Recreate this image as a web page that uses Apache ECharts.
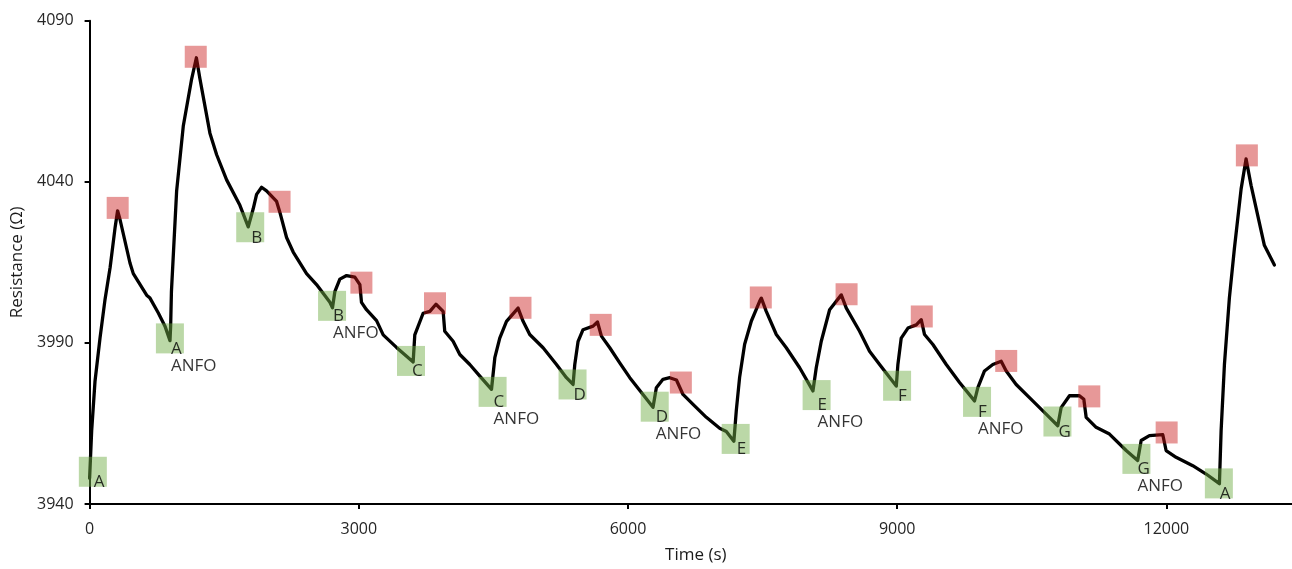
<!DOCTYPE html>
<html>
<head>
<meta charset="utf-8">
<script src="https://cdn.jsdelivr.net/npm/echarts@6/dist/echarts.min.js"></script>
<style>
html,body{margin:0;padding:0;background:#fff;}
#chart{width:1292px;height:569px;}
</style>
</head>
<body>
<div id="chart"></div>
<script>
// Resistance trace (time in s, resistance in Ω)
const traceTime = [
  0, 23, 60, 116, 172, 229, 285, 312,
  339, 450, 487, 636, 673, 766, 840, 896,
  903, 912, 970, 1044, 1137, 1190,
  1230, 1341, 1416, 1527, 1675, 1768, 1787,
  1824, 1861, 1917, 1972, 2084, 2121,
  2195, 2269, 2418, 2529, 2678, 2707,
  2733, 2789, 2864, 2956, 3012,
  3030, 3086, 3198, 3272, 3420, 3606,
  3624, 3717, 3792, 3860,
  3940, 3958, 4051, 4126, 4237, 4349, 4479,
  4516, 4571, 4646, 4775,
  4831, 4905, 5054, 5203, 5314, 5388,
  5407, 5444, 5499, 5611, 5660,
  5704, 5797, 5908, 6020, 6167, 6279,
  6316, 6390, 6465, 6540,
  6613, 6725, 6873, 7022, 7096, 7180,
  7207, 7244, 7300, 7375, 7467, 7486,
  7541, 7653, 7764, 7913, 8061,
  8098, 8154, 8247, 8377,
  8433, 8581, 8692, 8804, 8860, 8990,
  9008, 9045, 9120, 9213, 9268,
  9305, 9398, 9547, 9695, 9862,
  9899, 9973, 10066, 10159,
  10215, 10326, 10511, 10660, 10790,
  10827, 10920, 11031, 11080,
  11106, 11217, 11366, 11552, 11680,
  11719, 11811, 11960,
  11997, 12108, 12294, 12443, 12591,
  12610, 12647, 12702, 12758, 12833, 12888,
  12944, 13018, 13092, 13204
];
const traceResistance = [
  3948, 3962.7, 3978, 3991.5, 4003.5, 4013.5, 4026, 4031,
  4028.3, 4014.8, 4011.5, 4004.8, 4003.9, 3999.3, 3995.2, 3990.7,
  3995, 4006, 4037.2, 4057.3, 4071.9, 4078.5,
  4071.9, 4055.1, 4048.4, 4040.6, 4032.7, 4026, 4025.5,
  4031.7, 4036.1, 4038.3, 4037.2, 4033.9, 4030.5,
  4022.7, 4018.2, 4011.5, 4008.1, 4002.6, 4000.9,
  4005.9, 4009.8, 4010.9, 4010.4, 4008.1,
  4002.6, 4000.3, 3996.9, 3992.5, 3988.6, 3984.1,
  3992.5, 3999.2, 3999.8, 4002,
  3999.8, 3993.6, 3990.5, 3986.4, 3983.3, 3979.7, 3975.6,
  3985.4, 3991.5, 3996.7, 4000.8,
  3996.7, 3992.6, 3988.5, 3983.3, 3979.2, 3977.1,
  3983.3, 3990.5, 3994.1, 3995.2, 3996.5,
  3992.1, 3988.5, 3983.8, 3979.2, 3974.0, 3970,
  3976.1, 3978.7, 3979.2, 3978.5,
  3974, 3970.9, 3966.9, 3963.5, 3962.5, 3959.5,
  3969, 3979.3, 3989.6, 3996.8, 4002.9, 4003.9,
  3999.8, 3992.6, 3988.5, 3982.3, 3975.1,
  3982.3, 3990.5, 4000.3, 4004.9,
  4000.8, 3993.6, 3987.4, 3983.3, 3981.3, 3976.6,
  3983.3, 3991.5, 3994.6, 3995.6, 3997.2,
  3992.6, 3989.5, 3983.3, 3977.7, 3972,
  3976.1, 3981.3, 3983.3, 3984.3,
  3981.3, 3977.1, 3972, 3967.9, 3964.3,
  3969.9, 3973.6, 3973.6, 3972.5,
  3966.9, 3963.8, 3961.7, 3956.6, 3953.5,
  3959.7, 3961.2, 3961.5,
  3956.6, 3954.5, 3951.9, 3949.3, 3946.3,
  3962.7, 3983.3, 4003.9, 4019.3, 4037.8, 4047.1,
  4038.9, 4029.6, 4020.3, 4014.2
];

// Minima markers (green) with labels
const minTime = [36, 895, 1790, 2702, 3582, 4491, 5382, 6298, 7200, 8102, 8999, 9890, 10786, 11666, 12585];
const minResistance = [3950.0, 3991.4, 4025.9, 4001.5, 3984.4, 3974.8, 3977.1, 3970.2, 3960.2, 3973.8, 3976.7, 3971.7, 3965.6, 3954.0, 3946.4];
const minLabels = ['A', 'A\nANFO', 'B', 'B\nANFO', 'C', 'C\nANFO', 'D', 'D\nANFO', 'E', 'E\nANFO', 'F', 'F\nANFO', 'G', 'G\nANFO', 'A'];

// Maxima markers (red)
const maxTime = [313, 1183, 2117, 3029, 3849, 4802, 5696, 6589, 7480, 8436, 9274, 10215, 11141, 12003, 12897];
const maxResistance = [4031.9, 4078.8, 4033.8, 4008.7, 4002.3, 4000.9, 3995.6, 3977.7, 4004.1, 4005.1, 3998.2, 3984.4, 3973.4, 3962.2, 4048.2];

// Axis ticks
const xTicks = [0, 3000, 6000, 9000, 12000];
const yTicks = [3940, 3990, 4040, 4090];

const FONT = 'Open Sans';
const chart = echarts.init(document.getElementById('chart'), null, {renderer: 'canvas'});

const axisCommon = {
  axisLine: {show: true, onZero: false, lineStyle: {color: '#000', width: 2}},
  splitLine: {show: false}
};

chart.setOption({
  animation: false,
  backgroundColor: '#fff',
  grid: {left: 89.6, right: 0, top: 20.7, bottom: 61.7, containLabel: false},
  xAxis: Object.assign({}, axisCommon, {
    type: 'value', min: 0, max: 13400,
    name: 'Time (s)', nameLocation: 'middle', nameGap: 43,
    nameTextStyle: {fontFamily: FONT, fontSize: 17, color: '#1a1a1a', padding: [0, 0, 0, 10]},
    axisTick: {show: true, length: 5, customValues: xTicks, lineStyle: {color: '#000', width: 2}},
    axisLabel: {customValues: xTicks, margin: 17, fontFamily: FONT, fontSize: 16, color: '#262626',
      formatter: v => String(v)}
  }),
  yAxis: Object.assign({}, axisCommon, {
    type: 'value', min: 3940, max: 4090,
    name: 'Resistance (Ω)', nameLocation: 'middle', nameGap: 53, nameRotate: 90,
    nameTextStyle: {fontFamily: FONT, fontSize: 17, color: '#1a1a1a'},
    axisTick: {show: true, length: 5, customValues: yTicks, lineStyle: {color: '#000', width: 2}},
    axisLabel: {customValues: yTicks, margin: 16, fontFamily: FONT, fontSize: 16, color: '#262626',
      formatter: v => String(v)}
  }),
  series: [
    {
      type: 'line',
      data: traceTime.map((t, i) => [t, traceResistance[i]]),
      showSymbol: false,
      symbol: 'none',
      lineStyle: {color: '#000', width: 3.3, join: 'round', cap: 'round'},
      z: 2,
      silent: true
    },
    {
      type: 'scatter',
      data: minTime.map((t, i) => ({value: [t, minResistance[i]], name: minLabels[i]})),
      symbol: 'rect',
      symbolSize: [28, 30],
      itemStyle: {color: 'rgba(112,173,71,0.6)'},
      label: {
        show: true,
        formatter: p => p.name,
        position: [15, 17],
        align: 'left',
        verticalAlign: 'top',
        fontFamily: FONT,
        fontSize: 17,
        lineHeight: 17,
        color: '#000'
      },
      z: 3,
      silent: true
    },
    {
      type: 'scatter',
      data: maxTime.map((t, i) => [t, maxResistance[i]]),
      symbol: 'rect',
      symbolSize: [22, 22],
      itemStyle: {color: 'rgba(200,20,20,0.55)'},
      z: 3,
      silent: true
    }
  ]
});
</script>
</body>
</html>
